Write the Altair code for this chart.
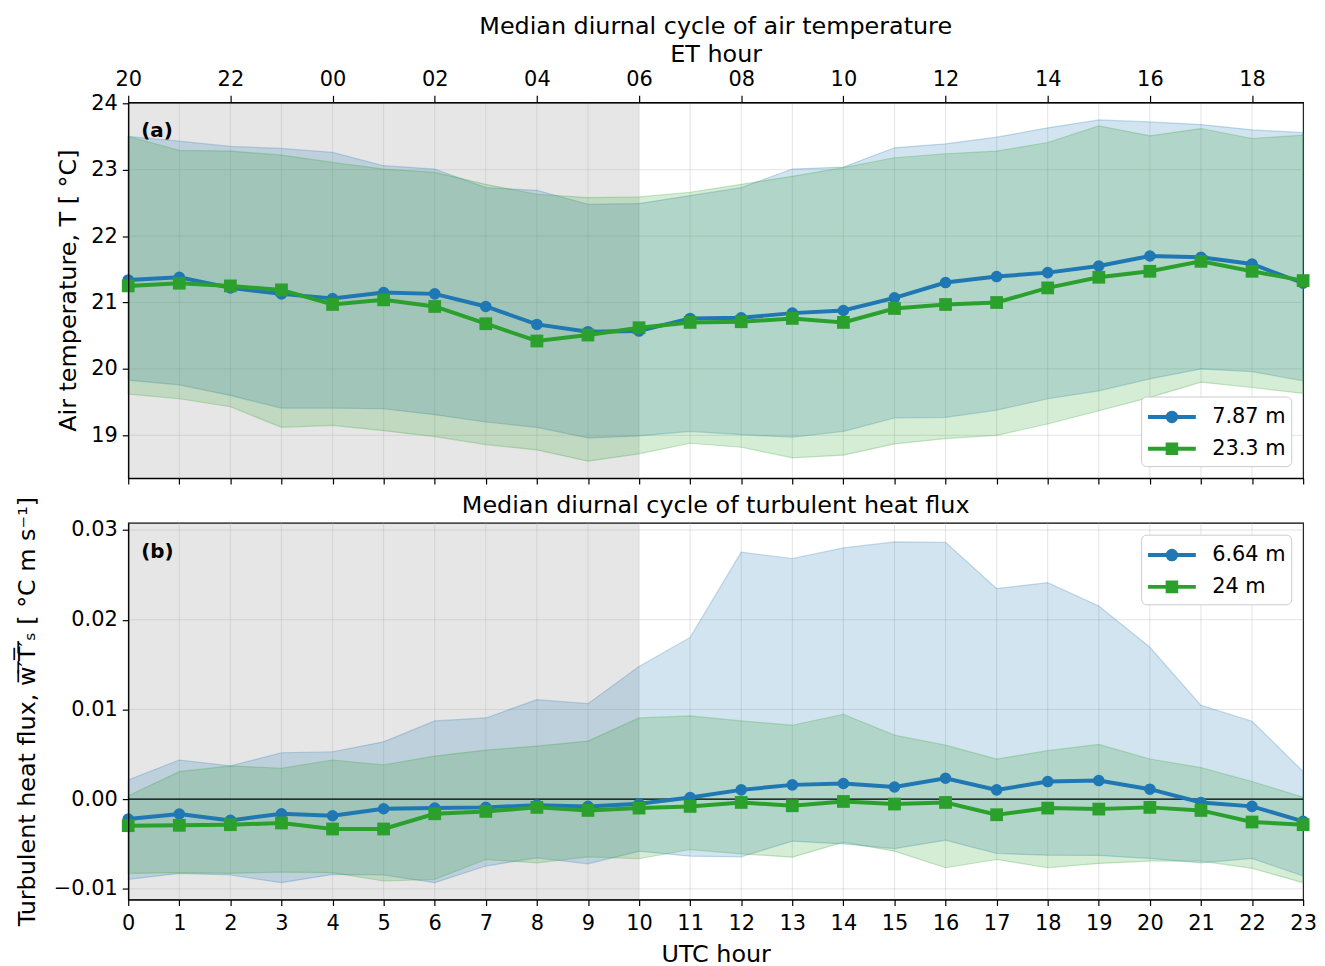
import altair as alt
import pandas as pd

FONT = "DejaVu Sans"
BLUE = "#1f77b4"
GREEN = "#2ca02c"

# ---------------- data ----------------
hours = list(range(24))
et_tick_hours = list(range(0, 24, 2))
night_start = [0]
night_end = [10]

temp_series = ["7.87 m", "23.3 m"]
temp_yticks = [19, 20, 21, 22, 23, 24]
T_787_median = [21.34, 21.38, 21.22, 21.13, 21.06, 21.15, 21.13, 20.94, 20.67, 20.56, 20.57, 20.76,
                20.77, 20.84, 20.88, 21.07, 21.30, 21.39, 21.45, 21.55, 21.70, 21.68, 21.58, 21.29]
T_787_upper = [23.50, 23.43, 23.35, 23.32, 23.26, 23.06, 23.01, 22.73, 22.69, 22.48, 22.49, 22.61,
               22.73, 23.01, 23.04, 23.33, 23.39, 23.49, 23.63, 23.75, 23.72, 23.68, 23.60, 23.56]
T_787_lower = [19.83, 19.76, 19.60, 19.41, 19.41, 19.40, 19.31, 19.20, 19.12, 18.96, 18.99, 19.06,
               19.01, 18.97, 19.06, 19.26, 19.27, 19.38, 19.55, 19.67, 19.85, 20.00, 19.96, 19.82]
T_233_median = [21.25, 21.29, 21.25, 21.19, 20.97, 21.04, 20.94, 20.68, 20.42, 20.51, 20.62, 20.70,
                20.71, 20.76, 20.70, 20.91, 20.97, 21.00, 21.22, 21.38, 21.47, 21.62, 21.47, 21.33]
T_233_upper = [23.50, 23.29, 23.28, 23.22, 23.11, 23.01, 22.96, 22.78, 22.63, 22.58, 22.59, 22.66,
               22.78, 22.90, 23.03, 23.18, 23.24, 23.28, 23.41, 23.66, 23.51, 23.62, 23.47, 23.52]
T_233_lower = [19.62, 19.55, 19.43, 19.12, 19.15, 19.07, 18.98, 18.86, 18.78, 18.61, 18.72, 18.88,
               18.82, 18.66, 18.70, 18.87, 18.95, 19.00, 19.17, 19.37, 19.57, 19.80, 19.72, 19.63]

flux_series = ["6.64 m", "24 m"]
flux_yticks = [-0.01, 0.0, 0.01, 0.02, 0.03]
zero_ref = [0.0]
F_664_median = [-0.00222, -0.00166, -0.00237, -0.00163, -0.00185, -0.00107, -0.00100, -0.00092,
                -0.00067, -0.00081, -0.00052, 0.00018, 0.00103, 0.00159, 0.00174, 0.00135,
                0.00233, 0.00103, 0.00196, 0.00207, 0.00111, -0.00037, -0.00081, -0.00248]
F_664_upper = [0.00214, 0.00436, 0.00370, 0.00517, 0.00528, 0.00639, 0.00872, 0.00905,
               0.01109, 0.01064, 0.01478, 0.01803, 0.02753, 0.02683, 0.02801, 0.02868,
               0.02864, 0.02347, 0.02413, 0.02154, 0.01693, 0.01046, 0.00868, 0.00307]
F_664_lower = [-0.00894, -0.00828, -0.00846, -0.00931, -0.00839, -0.00846, -0.00931, -0.00746,
               -0.00654, -0.00721, -0.00580, -0.00636, -0.00643, -0.00469, -0.00499, -0.00551,
               -0.00458, -0.00606, -0.00625, -0.00628, -0.00661, -0.00710, -0.00661, -0.00857]
F_24_median = [-0.00296, -0.00292, -0.00285, -0.00266, -0.00333, -0.00333, -0.00163, -0.00137,
               -0.00092, -0.00126, -0.00100, -0.00081, -0.00037, -0.00074, -0.00026, -0.00055,
               -0.00037, -0.00174, -0.00100, -0.00111, -0.00092, -0.00126, -0.00255, -0.00285]
F_24_upper = [0.00037, 0.00307, 0.00370, 0.00344, 0.00436, 0.00381, 0.00480, 0.00547,
              0.00591, 0.00647, 0.00905, 0.00928, 0.00872, 0.00824, 0.00946, 0.00713,
              0.00602, 0.00447, 0.00540, 0.00610, 0.00447, 0.00351, 0.00196, 0.00022]
F_24_lower = [-0.00828, -0.00820, -0.00828, -0.00813, -0.00820, -0.00913, -0.00894, -0.00673,
              -0.00710, -0.00643, -0.00665, -0.00562, -0.00610, -0.00647, -0.00480, -0.00580,
              -0.00765, -0.00673, -0.00765, -0.00717, -0.00691, -0.00691, -0.00772, -0.00931]


def frame(names, meds, los, his):
    rows = []
    for name, med, lo, hi in zip(names, meds, los, his):
        for h, m, l, u in zip(hours, med, lo, hi):
            rows.append({"hour": h, "series": name, "med": m, "lo": l, "hi": u})
    return pd.DataFrame(rows)


temp_df = frame(temp_series, [T_787_median, T_233_median], [T_787_lower, T_233_lower],
                [T_787_upper, T_233_upper])
flux_df = frame(flux_series, [F_664_median, F_24_median], [F_664_lower, F_24_lower],
                [F_664_upper, F_24_upper])

# legend symbols: line with a (solid) circle / square marker, drawn with strokes only
CIRCLE_SYM = ("M-1.78,0H1.78"
              "M0.107,0A0.107,0.107,0,1,1,-0.107,0A0.107,0.107,0,1,1,0.107,0Z"
              "M0.213,0A0.213,0.213,0,1,1,-0.213,0A0.213,0.213,0,1,1,0.213,0Z"
              "M0.32,0A0.32,0.32,0,1,1,-0.32,0A0.32,0.32,0,1,1,0.32,0Z")
SQUARE_SYM = ("M-1.78,0H1.78"
              "M-0.107,-0.107H0.107V0.107H-0.107Z"
              "M-0.213,-0.213H0.213V0.213H-0.213Z"
              "M-0.32,-0.32H0.32V0.32H-0.32Z")

PLOT_W = 1182


def panel(df, names, y_domain, y_ticks, y_title, y_fmt, y_title_pad, height, top_axis,
          legend_orient, tag, title, zero_line):
    xs = alt.Scale(domain=[0, 23], nice=False, zero=False)
    ys = alt.Scale(domain=y_domain, nice=False, zero=False)
    cs = alt.Scale(domain=names, range=[BLUE, GREEN])
    # the same y axis definition is given to every layer so the shared axis merges cleanly
    y_axis = alt.Axis(values=y_ticks, title=y_title, format=y_fmt, grid=False, zindex=1,
                      labelPadding=5, titlePadding=y_title_pad)

    layers = []

    # night shading (carries the ET axis on the top panel)
    night_df = pd.DataFrame({"start": night_start, "end": night_end})
    if top_axis:
        night_x_axis = alt.Axis(orient="top", values=et_tick_hours, title="ET hour",
                                labelExpr="((datum.value + 20) % 24) < 10 ? '0' + ((datum.value + 20) % 24) : '' + ((datum.value + 20) % 24)",
                                grid=False, zindex=1, titlePadding=2, labelPadding=6, tickSize=7,
                                labelFlush=False)
    else:
        night_x_axis = None
    layers.append(alt.Chart(night_df).mark_rect(color="gray", opacity=0.2).encode(
        x=alt.X("start:Q", scale=xs, axis=night_x_axis), x2="end:Q"))

    # grid
    layers.append(alt.Chart(pd.DataFrame({"v": y_ticks})).mark_rule(
        color="#b0b0b0", opacity=0.35, strokeWidth=1).encode(
        y=alt.Y("v:Q", scale=ys, axis=y_axis)))
    layers.append(alt.Chart(pd.DataFrame({"hour": hours})).mark_rule(
        color="#b0b0b0", opacity=0.35, strokeWidth=1).encode(
        x=alt.X("hour:Q", scale=xs, axis=None)))

    # bands (first band carries the bottom x axis)
    if top_axis:
        bx_axis = alt.Axis(orient="bottom", values=hours, labels=False, title=None,
                           grid=False, zindex=1)
    else:
        bx_axis = alt.Axis(orient="bottom", values=hours, title="UTC hour", grid=False,
                           zindex=1, format="d", labelPadding=7, titlePadding=9,
                           labelFlush=False)
    for i, name in enumerate(names):
        col = [BLUE, GREEN][i]
        layers.append(alt.Chart(df).transform_filter(alt.datum.series == name).mark_area(
            color=col, fillOpacity=0.2, stroke=col, strokeOpacity=0.25, strokeWidth=1.2).encode(
            x=alt.X("hour:Q", scale=xs, axis=bx_axis if i == 0 else None),
            y=alt.Y("lo:Q", scale=ys, axis=y_axis),
            y2="hi:Q"))

    if zero_line:
        layers.append(alt.Chart(pd.DataFrame({"z": zero_ref})).mark_rule(
            color="black", strokeWidth=1.5).encode(y=alt.Y("z:Q", scale=ys, axis=y_axis)))

    # median lines with markers
    for i, name in enumerate(names):
        col = [BLUE, GREEN][i]
        shp = ["circle", "square"][i]
        size = [135, 165][i]
        base = alt.Chart(df).transform_filter(alt.datum.series == name).encode(
            x=alt.X("hour:Q", scale=xs, axis=None),
            y=alt.Y("med:Q", scale=ys, axis=y_axis))
        layers.append(base.mark_line(color=col, strokeWidth=4))
        layers.append(base.mark_point(color=col, filled=True, opacity=1, shape=shp, size=size))

    # legend carrier (invisible)
    leg = alt.Legend(title=None, orient=legend_orient, offset=12, fillColor="white",
                     strokeColor="#cccccc", cornerRadius=5, padding=5, labelFont=FONT,
                     labelFontSize=21, labelColor="black", symbolSize=729, symbolStrokeWidth=4,
                     symbolOpacity=1, rowPadding=4, symbolOffset=10.5, labelOffset=25)
    layers.append(alt.Chart(df).mark_point(filled=False, opacity=0).encode(
        x=alt.X("hour:Q", scale=xs, axis=None),
        y=alt.Y("med:Q", scale=ys, axis=y_axis),
        color=alt.Color("series:N", scale=cs, legend=leg),
        shape=alt.Shape("series:N", scale=alt.Scale(domain=names, range=[CIRCLE_SYM, SQUARE_SYM]),
                        legend=leg)))

    # panel tag
    layers.append(alt.Chart(pd.DataFrame({"t": [tag]})).mark_text(
        font=FONT, fontSize=20, fontWeight="bold", align="left", baseline="middle",
        color="black").encode(text="t:N", x=alt.value(13), y=alt.value(29)))

    props = dict(width=PLOT_W, height=height)
    if top_axis:
        props["title"] = alt.TitleParams(title, font=FONT, fontSize=24, fontWeight="normal",
                                         color="black", offset=4)
    else:
        # panel title drawn as text just above the plot area
        layers.append(alt.Chart(pd.DataFrame({"t": [title]})).mark_text(
            font=FONT, fontSize=24, align="center", baseline="middle", color="black").encode(
            text="t:N", x=alt.value(PLOT_W / 2), y=alt.value(-17)))

    return alt.layer(*layers).resolve_axis(x="independent").properties(**props)


top = panel(temp_df, temp_series, [18.356, 24.015], temp_yticks,
            "Air temperature, T [ °C]", "d", 10, 378, True, "bottom-right", "(a)",
            "Median diurnal cycle of air temperature", False)
bottom = panel(flux_df, flux_series, [-0.01119, 0.03081], flux_yticks,
               "Turbulent heat flux, w̅′̅T̅′̅ₛ [ °C m s⁻¹]", ".2f", 14, 379, False, "top-right", "(b)",
               "Median diurnal cycle of turbulent heat flux", True)

chart = alt.vconcat(top, bottom, spacing=45, bounds="flush").resolve_scale(
    color="independent", shape="independent").resolve_legend(
    color="independent", shape="independent").configure(
    font=FONT, padding={"left": 15, "top": 11, "right": 8, "bottom": 0}).configure_view(
    stroke="black", strokeWidth=1.2).configure_axis(
    labelFont=FONT, labelFontSize=21, titleFont=FONT, titleFontSize=24,
    titleFontWeight="normal", labelColor="black", titleColor="black", tickColor="black",
    domainColor="black", tickSize=6, tickWidth=1.2, domainWidth=1.2, grid=False)

chart.save("out.html", embed_options={"renderer": "svg", "actions": False})
